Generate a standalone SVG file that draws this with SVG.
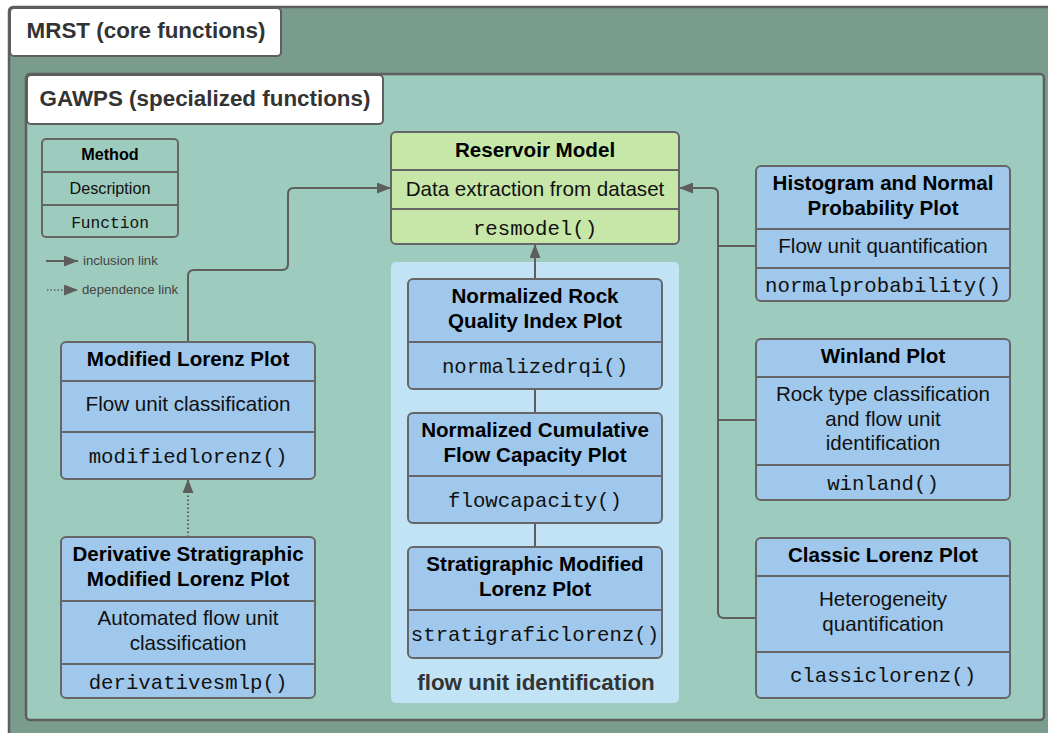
<svg xmlns="http://www.w3.org/2000/svg" width="1048" height="733" viewBox="0 0 1048 733">
<style>
.frame{stroke:#5e5e5e;stroke-width:2.5}
.lbl{fill:#fff;stroke:#5e5e5e;stroke-width:2}
.box{fill:#9fc8ec;stroke:#666;stroke-width:2}
.div{stroke:#666;stroke-width:2}
.t{font-family:"Liberation Sans",Arial,sans-serif;font-weight:bold;font-size:20.6px;fill:#000;text-anchor:middle}
.d{font-family:"Liberation Sans",Arial,sans-serif;font-size:20.6px;fill:#111;text-anchor:middle}
.f{font-family:"Liberation Mono","Courier New",monospace;font-size:20.7px;fill:#111;text-anchor:middle}
.con{fill:none;stroke:#5e5e5e;stroke-width:2}
.leg{font-family:"Liberation Sans",Arial,sans-serif;font-size:13.2px;fill:#444}
.hdr{font-family:"Liberation Sans",Arial,sans-serif;font-weight:bold;font-size:22.4px;fill:#333;text-anchor:middle}
</style>
<defs>
<marker id="arrL" viewBox="0 0 10 10" refX="10" refY="5" markerWidth="14" markerHeight="11" orient="auto" markerUnits="userSpaceOnUse" preserveAspectRatio="none">
<path d="M0,0 L10,5 L0,10 z" fill="#5e5e5e"/>
</marker>
</defs>
<rect width="1048" height="733" fill="#ffffff"/>
<g id="mrst">
<rect class="frame" x="9" y="7" width="1050" height="740" rx="4" fill="#7a9c8d"/>
<rect class="lbl" x="10" y="8" width="271" height="48" rx="4"/>
<text class="hdr" x="146" y="38">MRST (core functions)</text>
</g>
<g id="gawps">
<rect class="frame" x="26" y="74" width="1018" height="646" rx="4" fill="#9dcbbe"/>
<rect class="lbl" x="27" y="75" width="356" height="49" rx="4"/>
<text class="hdr" x="205" y="106">GAWPS (specialized functions)</text>
</g>
<g id="flowgroup">
<rect x="391" y="262" width="288" height="441" rx="5" fill="#c1e3f5"/>
<text class="hdr" x="536" y="690">flow unit identification</text>
</g>
<g id="legend">
<rect x="42" y="139" width="136" height="98" rx="4" fill="none" stroke="#666" stroke-width="2"/>
<line class="div" x1="42" y1="172" x2="178" y2="172"/>
<line class="div" x1="42" y1="205" x2="178" y2="205"/>
<text x="110" y="160" font-family="'Liberation Sans',Arial,sans-serif" font-weight="bold" font-size="16.2" fill="#000" text-anchor="middle">Method</text>
<text x="110" y="194" font-family="'Liberation Sans',Arial,sans-serif" font-size="16.2" fill="#111" text-anchor="middle">Description</text>
<text x="110" y="228" font-family="'Liberation Mono',monospace" font-size="16.2" fill="#111" text-anchor="middle">Function</text>
<line x1="46" y1="261" x2="78" y2="261" stroke="#5e5e5e" stroke-width="2" marker-end="url(#arrL)"/>
<text class="leg" x="83" y="265">inclusion link</text>
<line x1="47" y1="290" x2="78" y2="290" stroke="#5e5e5e" stroke-width="1.5" stroke-dasharray="1.5,2" marker-end="url(#arrL)"/>
<text class="leg" x="82" y="294">dependence link</text>
</g>
<g id="connectors">
<path class="con" d="M188,342 V276 Q188,270 194,270 H282 Q288,270 288,264 V194 Q288,188 294,188 H391" marker-end="url(#arrL)"/>
<path class="con" d="M756,246 H718"/>
<path class="con" d="M756,420 H718"/>
<path class="con" d="M756,618 H724 Q718,618 718,612 V194 Q718,188 712,188 H679" marker-end="url(#arrL)"/>
<path class="con" d="M535,279 V244" marker-end="url(#arrL)"/>
<path class="con" d="M535,389 V413"/>
<path class="con" d="M535,523 V547"/>
<path class="con" d="M188,537 V479" stroke-dasharray="1.5,2.5" stroke-width="1.6" marker-end="url(#arrL)"/>
</g>
<g id="reservoir">
<rect x="391" y="132" width="288" height="112" rx="5" fill="#c6e7a8" stroke="#666" stroke-width="2"/>
<line class="div" x1="391" y1="170" x2="679" y2="170"/>
<line class="div" x1="391" y1="209" x2="679" y2="209"/>
<text class="t" x="535" y="157">Reservoir Model</text>
<text class="d" x="535" y="196">Data extraction from dataset</text>
<text class="f" x="535" y="235">resmodel()</text>
</g>
<g id="nrqi">
<rect class="box" x="408" y="279" width="254" height="110" rx="5"/>
<line class="div" x1="408" y1="342" x2="662" y2="342"/>
<text class="t" x="535" y="303">Normalized Rock</text>
<text class="t" x="535" y="328">Quality Index Plot</text>
<text class="f" x="535" y="373">normalizedrqi()</text>
</g>
<g id="ncfc">
<rect class="box" x="408" y="413" width="254" height="110" rx="5"/>
<line class="div" x1="408" y1="476" x2="662" y2="476"/>
<text class="t" x="535" y="437">Normalized Cumulative</text>
<text class="t" x="535" y="462">Flow Capacity Plot</text>
<text class="f" x="535" y="507">flowcapacity()</text>
</g>
<g id="sml">
<rect class="box" x="408" y="547" width="254" height="111" rx="5"/>
<line class="div" x1="408" y1="610" x2="662" y2="610"/>
<text class="t" x="535" y="571">Stratigraphic Modified</text>
<text class="t" x="535" y="596">Lorenz Plot</text>
<text class="f" x="535" y="641">stratigraficlorenz()</text>
</g>
<g id="histogram">
<rect class="box" x="756" y="166" width="254" height="135" rx="5"/>
<line class="div" x1="756" y1="229" x2="1010" y2="229"/>
<line class="div" x1="756" y1="268" x2="1010" y2="268"/>
<text class="t" x="883" y="190">Histogram and Normal</text>
<text class="t" x="883" y="215">Probability Plot</text>
<text class="d" x="883" y="253">Flow unit quantification</text>
<text class="f" x="883" y="292">normalprobability()</text>
</g>
<g id="winland">
<rect class="box" x="756" y="339" width="254" height="161" rx="5"/>
<line class="div" x1="756" y1="377" x2="1010" y2="377"/>
<line class="div" x1="756" y1="465" x2="1010" y2="465"/>
<text class="t" x="883" y="363">Winland Plot</text>
<text class="d" x="883" y="401">Rock type classification</text>
<text class="d" x="883" y="426">and flow unit</text>
<text class="d" x="883" y="450">identification</text>
<text class="f" x="883" y="490">winland()</text>
</g>
<g id="classic">
<rect class="box" x="756" y="538" width="254" height="160" rx="5"/>
<line class="div" x1="756" y1="576" x2="1010" y2="576"/>
<line class="div" x1="756" y1="652" x2="1010" y2="652"/>
<text class="t" x="883" y="562">Classic Lorenz Plot</text>
<text class="d" x="883" y="606">Heterogeneity</text>
<text class="d" x="883" y="631">quantification</text>
<text class="f" x="883" y="682">classiclorenz()</text>
</g>
<g id="modlorenz">
<rect class="box" x="61" y="342" width="254" height="137" rx="5"/>
<line class="div" x1="61" y1="381" x2="315" y2="381"/>
<line class="div" x1="61" y1="432" x2="315" y2="432"/>
<text class="t" x="188" y="366">Modified Lorenz Plot</text>
<text class="d" x="188" y="411">Flow unit classification</text>
<text class="f" x="188" y="463">modifiedlorenz()</text>
</g>
<g id="derivative">
<rect class="box" x="61" y="537" width="254" height="161" rx="5"/>
<line class="div" x1="61" y1="601" x2="315" y2="601"/>
<line class="div" x1="61" y1="664" x2="315" y2="664"/>
<text class="t" x="188" y="561">Derivative Stratigraphic</text>
<text class="t" x="188" y="586">Modified Lorenz Plot</text>
<text class="d" x="188" y="625">Automated flow unit</text>
<text class="d" x="188" y="650">classification</text>
<text class="f" x="188" y="689">derivativesmlp()</text>
</g>
</svg>
